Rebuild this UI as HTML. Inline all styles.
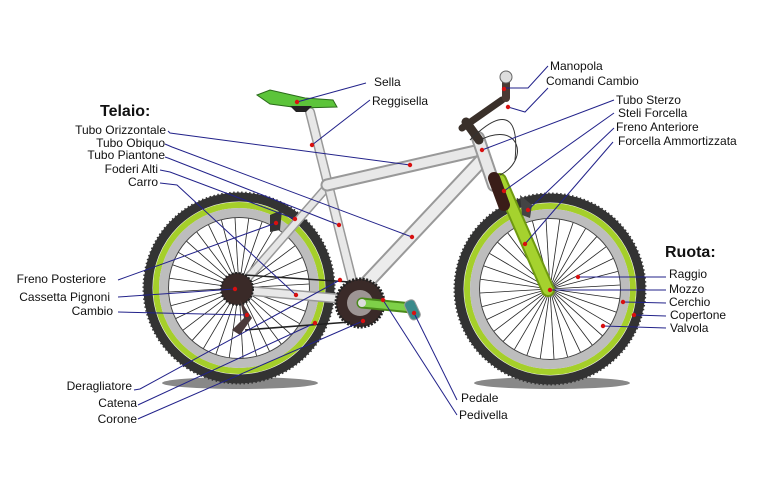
<!DOCTYPE html>
<html><head><meta charset="utf-8"><style>
html,body{margin:0;padding:0;background:#fff}
svg{display:block}
text{font-family:"Liberation Sans",sans-serif;font-size:12px;fill:#111}
.b{font-weight:bold;font-size:16px}
.l{stroke:#22228a;stroke-width:1;fill:none}
.d{fill:#d81010}
</style></head><body>
<svg width="766" height="496" viewBox="0 0 766 496" xmlns="http://www.w3.org/2000/svg">
<defs>
<g id="spk">
<line x1="-70" y1="4" x2="70" y2="-4"/>
<line x1="-70" y1="4" x2="70" y2="-4" transform="rotate(11.25)"/>
<line x1="-70" y1="4" x2="70" y2="-4" transform="rotate(22.5)"/>
<line x1="-70" y1="4" x2="70" y2="-4" transform="rotate(33.75)"/>
<line x1="-70" y1="4" x2="70" y2="-4" transform="rotate(45)"/>
<line x1="-70" y1="4" x2="70" y2="-4" transform="rotate(56.25)"/>
<line x1="-70" y1="4" x2="70" y2="-4" transform="rotate(67.5)"/>
<line x1="-70" y1="4" x2="70" y2="-4" transform="rotate(78.75)"/>
<line x1="-70" y1="4" x2="70" y2="-4" transform="rotate(90)"/>
<line x1="-70" y1="4" x2="70" y2="-4" transform="rotate(101.25)"/>
<line x1="-70" y1="4" x2="70" y2="-4" transform="rotate(112.5)"/>
<line x1="-70" y1="4" x2="70" y2="-4" transform="rotate(123.75)"/>
<line x1="-70" y1="4" x2="70" y2="-4" transform="rotate(135)"/>
<line x1="-70" y1="4" x2="70" y2="-4" transform="rotate(146.25)"/>
<line x1="-70" y1="4" x2="70" y2="-4" transform="rotate(157.5)"/>
<line x1="-70" y1="4" x2="70" y2="-4" transform="rotate(168.75)"/>
</g>
<g id="wheel">
<g stroke="#222" stroke-width="0.8"><use href="#spk"/></g>
<circle r="91" fill="none" stroke="#333" stroke-width="9"/>
<circle r="95.5" fill="none" stroke="#333" stroke-width="2" stroke-dasharray="1.5 2.5"/>
<circle r="83" fill="none" stroke="#a5cf2a" stroke-width="6"/>
<circle r="75.5" fill="none" stroke="#bdbdbd" stroke-width="9"/>
<circle r="70.5" fill="none" stroke="#444" stroke-width="1"/>
</g>
</defs>
<ellipse cx="240" cy="383" rx="78" ry="6" fill="#888"/>
<ellipse cx="552" cy="383" rx="78" ry="6" fill="#888"/>
<use href="#wheel" transform="translate(239,288)"/>
<use href="#wheel" transform="translate(550,289)"/>
<g stroke-linecap="round">
<line x1="239" y1="288" x2="327" y2="187" stroke="#999" stroke-width="9"/>
<line x1="239" y1="288" x2="327" y2="187" stroke="#e6e6e6" stroke-width="6"/>
<line x1="239" y1="290" x2="355" y2="300" stroke="#999" stroke-width="10"/>
<line x1="239" y1="290" x2="355" y2="300" stroke="#e8e8e8" stroke-width="7"/>
<line x1="310" y1="112" x2="355" y2="292" stroke="#999" stroke-width="10"/>
<line x1="310" y1="112" x2="355" y2="292" stroke="#e8e8e8" stroke-width="7"/>
<line x1="327" y1="185" x2="480" y2="150" stroke="#999" stroke-width="13"/>
<line x1="327" y1="185" x2="480" y2="150" stroke="#e8e8e8" stroke-width="9"/>
<line x1="360" y1="290" x2="484" y2="158" stroke="#999" stroke-width="15"/>
<line x1="360" y1="290" x2="484" y2="158" stroke="#ececec" stroke-width="11"/>
<line x1="478" y1="138" x2="494" y2="185" stroke="#999" stroke-width="14"/>
<line x1="478" y1="138" x2="494" y2="185" stroke="#e8e8e8" stroke-width="10"/>
<line x1="500" y1="180" x2="548" y2="290" stroke="#6f9a10" stroke-width="14"/>
<line x1="500" y1="180" x2="548" y2="290" stroke="#a5d22e" stroke-width="10"/>
<line x1="494" y1="178" x2="504" y2="205" stroke="#3a1d18" stroke-width="12"/>
<line x1="466" y1="122" x2="479" y2="140" stroke="#3a302a" stroke-width="9"/>
<line x1="462" y1="128" x2="502" y2="100" stroke="#3a302a" stroke-width="7"/>
<line x1="506" y1="80" x2="506" y2="98" stroke="#4a3a34" stroke-width="8"/>
</g>
<circle cx="506" cy="77" r="6" fill="#ddd" stroke="#666"/>
<path d="M480 140 C520 120,530 160,500 175 M470 140 C500 110,520 110,515 160" fill="none" stroke="#333" stroke-width="1"/>
<path d="M257 95 L270 90 L305 98 L333 100 L337 107 L300 108 L270 104 Z" fill="#5cc43a" stroke="#2a6a1a"/>
<path d="M290 106 L312 106 L306 112 L296 112 Z" fill="#222"/>
<circle cx="237" cy="289" r="16" fill="#3a2a28" stroke="#222" stroke-width="2" stroke-dasharray="2 1.5"/>
<path d="M240 300 L252 318 L240 335 L232 330 L244 318 Z" fill="#4a3a3a"/>
<circle cx="360" cy="303" r="24" fill="#3a2a28" stroke="#222" stroke-width="3" stroke-dasharray="2 1.5"/>
<circle cx="360" cy="303" r="13" fill="#fff" opacity="0.5"/>
<line x1="245" y1="275" x2="350" y2="282" stroke="#222" stroke-width="1.5"/>
<line x1="245" y1="330" x2="350" y2="322" stroke="#222" stroke-width="1.5"/>
<line x1="362" y1="303" x2="412" y2="308" stroke="#4a8a1a" stroke-width="11" stroke-linecap="round"/>
<line x1="362" y1="303" x2="412" y2="308" stroke="#7ed048" stroke-width="7" stroke-linecap="round"/>
<circle cx="362" cy="303" r="4" fill="#ddd"/>
<rect x="407" y="300" width="11" height="20" rx="4" fill="#3a8a8a" stroke="#999" transform="rotate(-25 412 310)"/>
<path d="M270 215 L282 210 L280 230 L270 232 Z" fill="#333"/>
<path d="M520 195 L532 205 L530 218 L522 215 Z" fill="#444"/>
<g class="l">
<line x1="366" y1="83" x2="297" y2="102"/>
<line x1="370" y1="100" x2="312" y2="145"/>
<polyline points="168,131 170,133 410,165"/>
<polyline points="165,144 172,147 412,237"/>
<polyline points="165,157 168,158 339,225"/>
<polyline points="160,170 170,172 295,219"/>
<polyline points="160,183 177,185 296,295"/>
<line x1="118" y1="280" x2="276" y2="223"/>
<line x1="118" y1="297" x2="235" y2="289"/>
<line x1="118" y1="312" x2="247" y2="315"/>
<polyline points="134,390 140,389 340,280"/>
<polyline points="138,405 140,404 315,323"/>
<polyline points="138,419 140,418 363,321"/>
<polyline points="548,66 528,88 506,88"/>
<polyline points="548,88 525,112 508,107"/>
<line x1="614" y1="100" x2="482" y2="150"/>
<line x1="614" y1="113" x2="504" y2="191"/>
<line x1="614" y1="128" x2="528" y2="210"/>
<line x1="613" y1="142" x2="525" y2="244"/>
<line x1="666" y1="277" x2="578" y2="277"/>
<line x1="666" y1="290" x2="550" y2="290"/>
<line x1="666" y1="303" x2="623" y2="302"/>
<line x1="666" y1="316" x2="634" y2="315"/>
<line x1="666" y1="328" x2="603" y2="326"/>
<line x1="457" y1="400" x2="414" y2="313"/>
<line x1="457" y1="415" x2="383" y2="300"/>
</g>
<g class="d">
<circle cx="297" cy="102" r="2.2"/><circle cx="312" cy="145" r="2.2"/><circle cx="410" cy="165" r="2.2"/>
<circle cx="412" cy="237" r="2.2"/><circle cx="339" cy="225" r="2.2"/><circle cx="295" cy="219" r="2.2"/>
<circle cx="296" cy="295" r="2.2"/><circle cx="276" cy="223" r="2.2"/><circle cx="235" cy="289" r="2.2"/>
<circle cx="247" cy="315" r="2.2"/><circle cx="340" cy="280" r="2.2"/><circle cx="315" cy="323" r="2.2"/>
<circle cx="363" cy="321" r="2.2"/><circle cx="504" cy="89" r="2.2"/><circle cx="508" cy="107" r="2.2"/>
<circle cx="482" cy="150" r="2.2"/><circle cx="504" cy="191" r="2.2"/><circle cx="528" cy="210" r="2.2"/>
<circle cx="525" cy="244" r="2.2"/><circle cx="578" cy="277" r="2.2"/><circle cx="550" cy="290" r="2.2"/>
<circle cx="623" cy="302" r="2.2"/><circle cx="634" cy="315" r="2.2"/><circle cx="603" cy="326" r="2.2"/>
<circle cx="414" cy="313" r="2.2"/><circle cx="383" cy="300" r="2.2"/>
</g>
<text x="374" y="86">Sella</text>
<text x="372" y="105">Reggisella</text>
<text class="b" x="100" y="116">Telaio:</text>
<g text-anchor="end">
<text x="166" y="134">Tubo Orizzontale</text>
<text x="165" y="147">Tubo Obiquo</text>
<text x="165" y="159">Tubo Piantone</text>
<text x="158" y="173">Foderi Alti</text>
<text x="158" y="186">Carro</text>
<text x="106" y="283">Freno Posteriore</text>
<text x="110" y="301">Cassetta Pignoni</text>
<text x="113" y="315">Cambio</text>
<text x="132" y="390">Deragliatore</text>
<text x="137" y="407">Catena</text>
<text x="137" y="423">Corone</text>
</g>
<text x="550" y="70">Manopola</text>
<text x="546" y="85">Comandi Cambio</text>
<text x="616" y="104">Tubo Sterzo</text>
<text x="618" y="117">Steli Forcella</text>
<text x="616" y="131">Freno Anteriore</text>
<text x="618" y="145">Forcella Ammortizzata</text>
<text class="b" x="665" y="257">Ruota:</text>
<text x="669" y="278">Raggio</text>
<text x="669" y="293">Mozzo</text>
<text x="669" y="306">Cerchio</text>
<text x="670" y="319">Copertone</text>
<text x="670" y="332">Valvola</text>
<text x="461" y="402">Pedale</text>
<text x="459" y="419">Pedivella</text>
</svg>
</body></html>
